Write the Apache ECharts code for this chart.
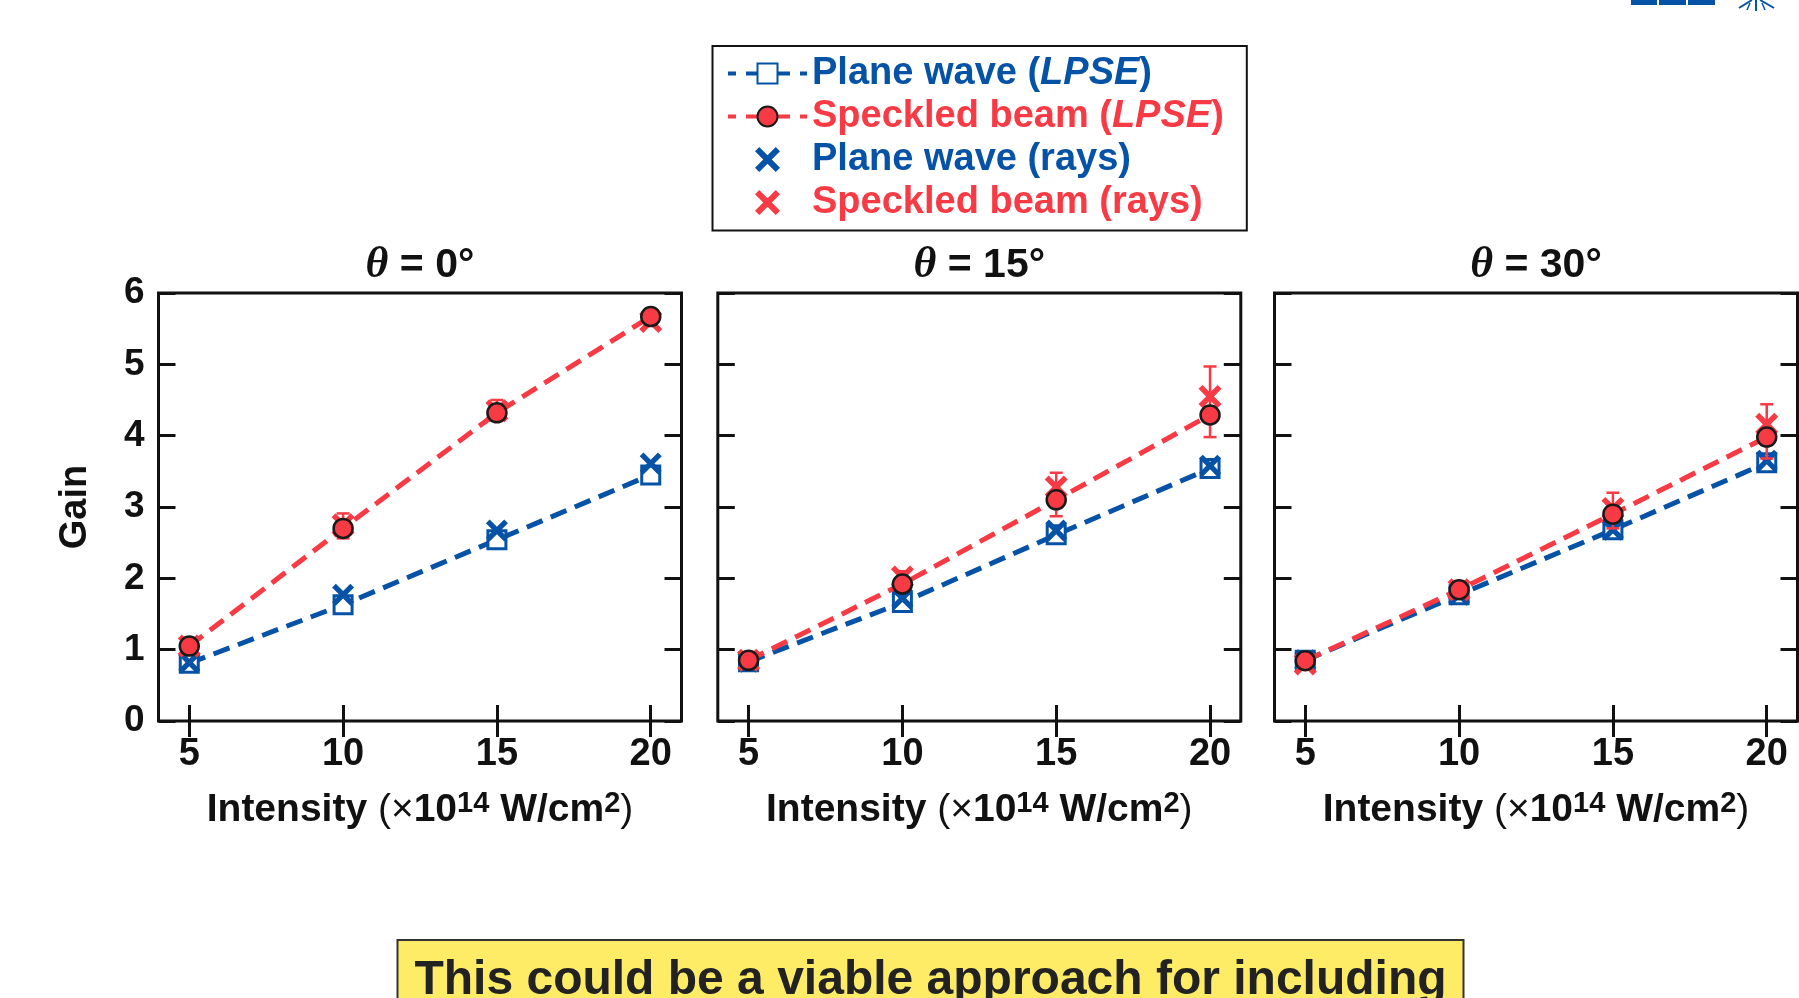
<!DOCTYPE html>
<html><head><meta charset="utf-8">
<script src="https://cdn.jsdelivr.net/npm/echarts@6/dist/echarts.min.js"></script>
<style>html,body{margin:0;padding:0;background:#fff}#c{width:1799px;height:998px}</style>
</head><body><div id="c"></div>
<script>
// ---------------- data ----------------
const intensity = [5, 10, 15, 20];
const xTickValues = [5, 10, 15, 20];
const panelAngles = ['0°', '15°', '30°'];

const planeLPSE_0 = [0.81, 1.63, 2.54, 3.45];
const planeLPSE_15 = [0.83, 1.66, 2.61, 3.54];
const planeLPSE_30 = [0.85, 1.77, 2.68, 3.62];

const speckLPSE_0 = [1.05, 2.70, 4.32, 5.67];
const speckLPSE_15 = [0.85, 1.92, 3.10, 4.29];
const speckLPSE_30 = [0.845, 1.84, 2.90, 3.98];

const planeRays_0 = [0.82, 1.77, 2.67, 3.61];
const planeRays_15 = [0.83, 1.72, 2.67, 3.58];
const planeRays_30 = [0.85, 1.77, 2.68, 3.65];

const speckRays_0 = [1.05, 2.75, 4.35, 5.60];
const speckRays_15 = [0.85, 2.02, 3.28, 4.55];
const speckRays_30 = [0.80, 1.84, 2.98, 4.16];

const speckRaysLow_0 = [1.00, 2.56, 4.25, 5.55];
const speckRaysHigh_0 = [1.10, 2.91, 4.50, 5.68];
const speckRaysLow_15 = [0.82, 1.95, 2.87, 3.98];
const speckRaysHigh_15 = [0.88, 2.10, 3.48, 4.97];
const speckRaysLow_30 = [0.78, 1.80, 2.70, 3.68];
const speckRaysHigh_30 = [0.84, 1.90, 3.20, 4.44];

const planeLPSE = [planeLPSE_0, planeLPSE_15, planeLPSE_30];
const speckLPSE = [speckLPSE_0, speckLPSE_15, speckLPSE_30];
const planeRays = [planeRays_0, planeRays_15, planeRays_30];
const speckRays = [speckRays_0, speckRays_15, speckRays_30];
const speckLow = [speckRaysLow_0, speckRaysLow_15, speckRaysLow_30];
const speckHigh = [speckRaysHigh_0, speckRaysHigh_15, speckRaysHigh_30];

// ---------------- style ----------------
const BLUE = '#0552A6';
const RED = '#F83A45';
const INK = '#111111';
const FONT = '"Liberation Sans", Arial, Helvetica, sans-serif';
const SERIF = '"Liberation Serif", "Times New Roman", serif';
const XSYM = 'path://M1.7,0L5,3.3L8.3,0L10,1.7L6.7,5L10,8.3L8.3,10L5,6.7L1.7,10L0,8.3L3.3,5L0,1.7Z';

const gridLefts = [158.5, 717.8, 1274.5];
const gridW = 523;
const gridTop = 293;
const gridH = 428;

const zip = (xs, ys) => xs.map((x, i) => [x, ys[i]]);

const grids = gridLefts.map(l => ({
  left: l, top: gridTop, width: gridW, height: gridH,
  show: true, borderColor: INK, borderWidth: 3, backgroundColor: 'transparent'
}));

const tickStyle = { show: true, inside: true, length: 16, lineStyle: { color: INK, width: 3 } };
const axisNameRich = {
  n: { fontSize: 39, fontWeight: 'bold', fontFamily: FONT, color: INK, lineHeight: 42 },
  r: { fontSize: 39, fontWeight: 'normal', fontFamily: FONT, color: INK, lineHeight: 42 },
  s: { fontSize: 29, fontWeight: 'bold', fontFamily: FONT, color: INK, lineHeight: 20, verticalAlign: 'top' }
};

const xAxes = [];
const yAxes = [];
for (let p = 0; p < 3; p++) {
  xAxes.push({
    gridIndex: p, type: 'value', min: 4, max: 21, position: 'bottom',
    axisLine: { show: false }, splitLine: { show: false },
    axisTick: Object.assign({ customValues: xTickValues }, tickStyle),
    axisLabel: { customValues: xTickValues, fontSize: 38, fontWeight: 'bold', fontFamily: FONT, color: INK, margin: 15 },
    name: '{n|Intensity }{r|(×}{n|10}{s|14}{n| W/cm}{s|2}{r|)}',
    nameLocation: 'middle', nameGap: 68,
    nameTextStyle: { rich: axisNameRich, fontSize: 39, fontFamily: FONT }
  });
}
for (let p = 0; p < 3; p++) {
  xAxes.push({
    gridIndex: p, type: 'value', min: 4, max: 21, position: 'top',
    axisLine: { show: false }, splitLine: { show: false },
    axisTick: Object.assign({ customValues: xTickValues }, tickStyle),
    axisLabel: { show: false }
  });
}
for (let p = 0; p < 3; p++) {
  yAxes.push({
    gridIndex: p, type: 'value', min: 0, max: 6, interval: 1, position: 'left',
    axisLine: { show: false }, splitLine: { show: false },
    axisTick: Object.assign({}, tickStyle, { length: 17 }),
    axisLabel: { show: p === 0, fontSize: 37, fontWeight: 'bold', fontFamily: FONT, color: INK, margin: 14 },
    name: p === 0 ? 'Gain' : '', nameLocation: 'middle', nameGap: 64, nameRotate: 90,
    nameTextStyle: { fontSize: 38, fontWeight: 'bold', fontFamily: FONT, color: INK }
  });
}
for (let p = 0; p < 3; p++) {
  yAxes.push({
    gridIndex: p, type: 'value', min: 0, max: 6, interval: 1, position: 'right',
    axisLine: { show: false }, splitLine: { show: false },
    axisTick: Object.assign({}, tickStyle, { length: 17 }),
    axisLabel: { show: false }
  });
}

function renderErr(params, api) {
  const x = api.value(0), lo = api.value(1), hi = api.value(2);
  const a = api.coord([x, lo]), b = api.coord([x, hi]);
  const w = 6.5;
  const style = { stroke: RED, lineWidth: 2.5, fill: null };
  return { type: 'group', children: [
    { type: 'line', shape: { x1: a[0], y1: a[1], x2: b[0], y2: b[1] }, style: style },
    { type: 'line', shape: { x1: a[0] - w, y1: a[1], x2: a[0] + w, y2: a[1] }, style: style },
    { type: 'line', shape: { x1: b[0] - w, y1: b[1], x2: b[0] + w, y2: b[1] }, style: style }
  ] };
}

const series = [];
for (let p = 0; p < 3; p++) {
  series.push({
    name: 'Plane wave (LPSE)', type: 'line', xAxisIndex: p, yAxisIndex: p, z: 2,
    data: zip(intensity, planeLPSE[p]), symbol: 'rect', symbolSize: 18,
    itemStyle: { color: '#ffffff', borderColor: BLUE, borderWidth: 3 },
    lineStyle: { color: BLUE, width: 5, type: [17, 9] }
  });
  series.push({
    name: 'Plane wave (rays)', type: 'scatter', xAxisIndex: p, yAxisIndex: p, z: 3,
    data: zip(intensity, planeRays[p]), symbol: XSYM, symbolSize: 22,
    itemStyle: { color: BLUE, opacity: 1 }
  });
  series.push({
    name: 'err', type: 'custom', xAxisIndex: p, yAxisIndex: p, z: 4,
    data: intensity.map((x, i) => [x, speckLow[p][i], speckHigh[p][i]]),
    encode: { x: 0, y: [1, 2] }, renderItem: renderErr
  });
  series.push({
    name: 'Speckled beam (rays)', type: 'scatter', xAxisIndex: p, yAxisIndex: p, z: 5,
    data: zip(intensity, speckRays[p]), symbol: XSYM, symbolSize: 23,
    itemStyle: { color: RED, opacity: 1 }
  });
  series.push({
    name: 'Speckled beam (LPSE)', type: 'line', xAxisIndex: p, yAxisIndex: p, z: 6,
    data: zip(intensity, speckLPSE[p]), symbol: 'circle', symbolSize: 19,
    itemStyle: { color: RED, borderColor: '#1a1a1a', borderWidth: 2.5 },
    lineStyle: { color: RED, width: 5, type: [17, 9] }
  });
}

const legendLabels = {
  'Plane wave (LPSE)': '{n|Plane wave (}{i|LPSE}{n|)}',
  'Speckled beam (LPSE)': '{n|Speckled beam (}{i|LPSE}{n|)}',
  'Plane wave (rays)': '{n|Plane wave (rays)}',
  'Speckled beam (rays)': '{n|Speckled beam (rays)}'
};
const legendDash = [8, 10, 44, 10, 8, 200];

const titleGraphics = gridLefts.map((l, p) => ({
  type: 'text', x: l + gridW / 2, y: 265.5, z: 10,
  style: {
    text: '{t|θ}{n| = ' + panelAngles[p] + '}',
    align: 'center', verticalAlign: 'middle',
    rich: {
      t: { fontFamily: SERIF, fontStyle: 'italic', fontWeight: 'bold', fontSize: 44, fill: INK },
      n: { fontFamily: FONT, fontWeight: 'bold', fontSize: 41, fill: INK }
    }
  }
}));

const logoGraphics = [
  { type: 'rect', shape: { x: 1631, y: 0, width: 26, height: 5 }, style: { fill: BLUE } },
  { type: 'rect', shape: { x: 1659, y: 0, width: 27, height: 5 }, style: { fill: BLUE } },
  { type: 'rect', shape: { x: 1688, y: 0, width: 27, height: 5 }, style: { fill: BLUE } },
  { type: 'line', shape: { x1: 1756, y1: 0, x2: 1756, y2: 11 }, style: { stroke: BLUE, lineWidth: 2 } },
  { type: 'line', shape: { x1: 1752, y1: 0, x2: 1739, y2: 8 }, style: { stroke: BLUE, lineWidth: 2 } },
  { type: 'line', shape: { x1: 1760, y1: 0, x2: 1774, y2: 8 }, style: { stroke: BLUE, lineWidth: 2 } },
  { type: 'line', shape: { x1: 1750, y1: 3, x2: 1747, y2: 10 }, style: { stroke: BLUE, lineWidth: 1.5 } },
  { type: 'line', shape: { x1: 1762, y1: 3, x2: 1765, y2: 10 }, style: { stroke: BLUE, lineWidth: 1.5 } }
];

const bannerGraphics = [
  { type: 'rect', shape: { x: 397.5, y: 940, width: 1066, height: 80 },
    style: { fill: '#FFEC66', stroke: '#333333', lineWidth: 2 }, z: 1 },
  { type: 'text', x: 930.5, y: 981, z: 2,
    style: { text: 'This could be a viable approach for including', fill: '#222222',
      font: 'bold 48px ' + FONT, align: 'center', verticalAlign: 'middle' } }
];

const option = {
  animation: false,
  backgroundColor: '#ffffff',
  grid: grids,
  xAxis: xAxes,
  yAxis: yAxes,
  legend: {
    show: true, orient: 'vertical', left: 712.5, top: 46,
    padding: [8.5, 23, 9, 13.5],
    borderColor: INK, borderWidth: 2, backgroundColor: '#ffffff',
    itemWidth: 79, itemHeight: 25, itemGap: 5, selectedMode: false,
    lineStyle: { width: 4 },
    formatter: name => legendLabels[name] || name,
    textStyle: {
      fontSize: 38, fontWeight: 'bold', fontFamily: FONT,
      rich: {
        n: { fontSize: 38, fontWeight: 'bold', fontFamily: FONT, lineHeight: 38 },
        i: { fontSize: 38, fontWeight: 'bold', fontStyle: 'italic', fontFamily: FONT, lineHeight: 38 }
      }
    },
    data: [
      { name: 'Plane wave (LPSE)', textStyle: { color: BLUE }, lineStyle: { width: 4, type: legendDash } },
      { name: 'Speckled beam (LPSE)', textStyle: { color: RED }, lineStyle: { width: 4, type: legendDash } },
      { name: 'Plane wave (rays)', textStyle: { color: BLUE } },
      { name: 'Speckled beam (rays)', textStyle: { color: RED } }
    ]
  },
  graphic: titleGraphics.concat(logoGraphics, bannerGraphics),
  series: series
};

const chart = echarts.init(document.getElementById('c'), null, { renderer: 'canvas' });
chart.setOption(option);
</script>
</body></html>
